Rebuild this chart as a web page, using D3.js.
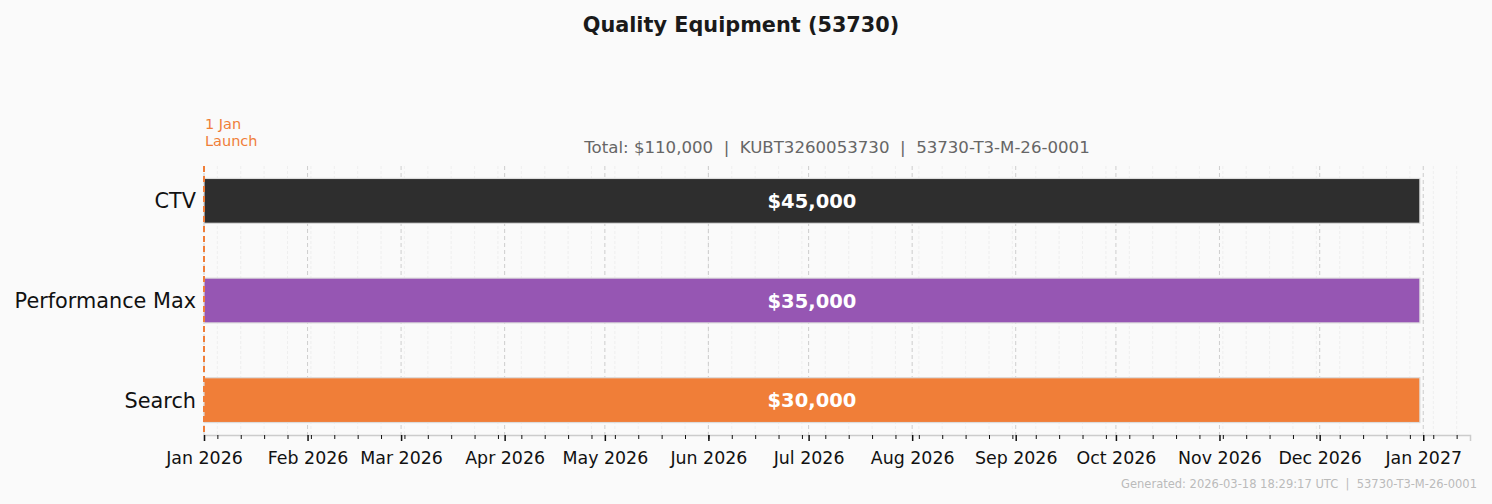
<!DOCTYPE html>
<html>
<head>
<meta charset="utf-8">
<script src="https://cdn.jsdelivr.net/npm/d3@7"></script>
<style>
  body { margin: 0; background: #fafafa; }
  text { font-family: "DejaVu Sans", sans-serif; }
</style>
</head>
<body>
<div id="chart"></div>
<script>
const WIDTH = 1492;
const HEIGHT = 504;
const MARGIN = { TOP: 166, BOTTOM: 69, LEFT: 204, RIGHT: 22 };

const width = WIDTH - MARGIN.LEFT - MARGIN.RIGHT;
const height = HEIGHT - MARGIN.TOP - MARGIN.BOTTOM;

// data
const channels = ['CTV', 'Performance Max', 'Search'];
const budgets = [45000, 35000, 30000];
const colors = ['#2e2e2e', '#9656b3', '#f07e38'];
const startDates = ['2026-01-01', '2026-01-01', '2026-01-01'];
const endDates = ['2026-12-31', '2026-12-31', '2026-12-31'];
const launchDate = '2026-01-01';
const axisRange = ['2026-01-01', '2027-01-15'];

const parse = d3.utcParse('%Y-%m-%d');
const rows = channels.map((c, i) => ({
  name: c, budget: budgets[i], color: colors[i],
  start: parse(startDates[i]), end: parse(endDates[i])
}));

const svg = d3.select('#chart')
  .append('svg')
    .attr('width', WIDTH)
    .attr('height', HEIGHT)
    .style('background', '#fafafa');

const container = svg.append('g')
    .attr('transform', `translate(${MARGIN.LEFT}, ${MARGIN.TOP})`);

const x = d3.scaleUtc()
  .domain(axisRange.map(parse))
  .range([0, width]);

// 3 bands of 100px, 0.35 units of padding top and bottom
const y = d3.scaleLinear().domain([-0.35, 2.35]).range([0, height]);
const barH = (y(0.45) - y(0));

// grid
const weeks = d3.utcMonday.range(x.domain()[0], x.domain()[1]);
const months = d3.utcMonth.range(x.domain()[0], x.domain()[1]);

container.selectAll('.minor-grid')
  .data(weeks)
  .enter()
  .append('line')
    .attr('class', 'minor-grid')
    .attr('x1', d => x(d)).attr('x2', d => x(d))
    .attr('y1', 0).attr('y2', height)
    .attr('stroke', '#ececec')
    .attr('stroke-width', 0.8)
    .attr('stroke-dasharray', '3,2');

container.selectAll('.major-grid')
  .data(months)
  .enter()
  .append('line')
    .attr('class', 'major-grid')
    .attr('x1', d => x(d)).attr('x2', d => x(d))
    .attr('y1', 0).attr('y2', height)
    .attr('stroke', '#c8c8c8')
    .attr('stroke-width', 0.9)
    .attr('stroke-dasharray', '4,3');

// bars
const bars = container.selectAll('.bar')
  .data(rows)
  .enter()
  .append('g')
    .attr('class', 'bar');

bars.append('rect')
    .attr('x', d => x(d.start))
    .attr('y', (d, i) => y(i) - barH / 2)
    .attr('width', d => x(d.end) - x(d.start))
    .attr('height', barH)
    .attr('fill', d => d.color)
    .attr('stroke', '#dcdcdc')
    .attr('stroke-width', 1.2);

bars.append('text')
    .attr('x', d => (x(d.start) + x(d.end)) / 2)
    .attr('y', (d, i) => y(i))
    .attr('dy', '0.36em')
    .attr('text-anchor', 'middle')
    .attr('fill', '#ffffff')
    .attr('font-weight', 'bold')
    .attr('font-size', 19.5)
    .text(d => d3.format('$,')(d.budget));

// y labels
container.selectAll('.ylabel')
  .data(rows)
  .enter()
  .append('text')
    .attr('class', 'ylabel')
    .attr('x', -8)
    .attr('y', (d, i) => y(i))
    .attr('dy', '0.36em')
    .attr('text-anchor', 'end')
    .attr('font-size', 20.8)
    .attr('fill', '#111')
    .text(d => d.name);

// x axis
const xAxis = container.append('g')
  .attr('transform', `translate(0, ${height})`)
  .call(d3.axisBottom(x).tickValues(months)
    .tickFormat(d3.utcFormat('%b %Y')).tickSize(6).tickPadding(11));
xAxis.select('.domain').attr('stroke', '#cccccc').attr('stroke-width', 1.5);
xAxis.selectAll('.tick line').attr('stroke', '#111').attr('stroke-width', 1.5);
xAxis.selectAll('.tick text')
  .attr('font-size', 17.4)
  .attr('fill', '#111')
  .attr('font-family', '"DejaVu Sans", sans-serif');

const minorAxis = container.append('g')
  .attr('transform', `translate(0, ${height})`)
  .call(d3.axisBottom(x).tickValues(weeks).tickFormat('').tickSize(4));
minorAxis.select('.domain').remove();
minorAxis.selectAll('.tick line').attr('stroke', '#111').attr('stroke-width', 1);

// launch line
const lx = x(parse(launchDate));
container.append('line')
    .attr('x1', lx).attr('x2', lx)
    .attr('y1', 0).attr('y2', height)
    .attr('stroke', '#f07e38')
    .attr('stroke-width', 2)
    .attr('stroke-dasharray', '6,4');

container.append('text')
    .attr('x', lx + 1)
    .attr('y', -37)
    .attr('fill', '#f07e38')
    .attr('font-size', 14.5)
    .selectAll('tspan')
    .data(['1 Jan', 'Launch'])
    .enter()
    .append('tspan')
      .attr('x', lx + 1)
      .attr('dy', (d, i) => i === 0 ? 0 : 17)
      .text(d => d);

// titles
svg.append('text')
    .attr('x', WIDTH / 2 - 5)
    .attr('y', 32)
    .attr('text-anchor', 'middle')
    .attr('font-size', 20.8)
    .attr('font-weight', 'bold')
    .attr('fill', '#1a1a1a')
    .text('Quality Equipment (53730)');

svg.append('text')
    .attr('x', MARGIN.LEFT + width / 2)
    .attr('y', 153)
    .attr('text-anchor', 'middle')
    .attr('font-size', 16.6)
    .attr('fill', '#666')
    .style('white-space', 'pre')
    .text('Total: $110,000  |  KUBT3260053730  |  53730-T3-M-26-0001');

svg.append('text')
    .attr('x', 1477)
    .attr('y', 488)
    .attr('text-anchor', 'end')
    .attr('font-size', 11.5)
    .attr('fill', '#bbbbbb')
    .style('white-space', 'pre')
    .text('Generated: 2026-03-18 18:29:17 UTC  |  53730-T3-M-26-0001');
</script>
</body>
</html>
